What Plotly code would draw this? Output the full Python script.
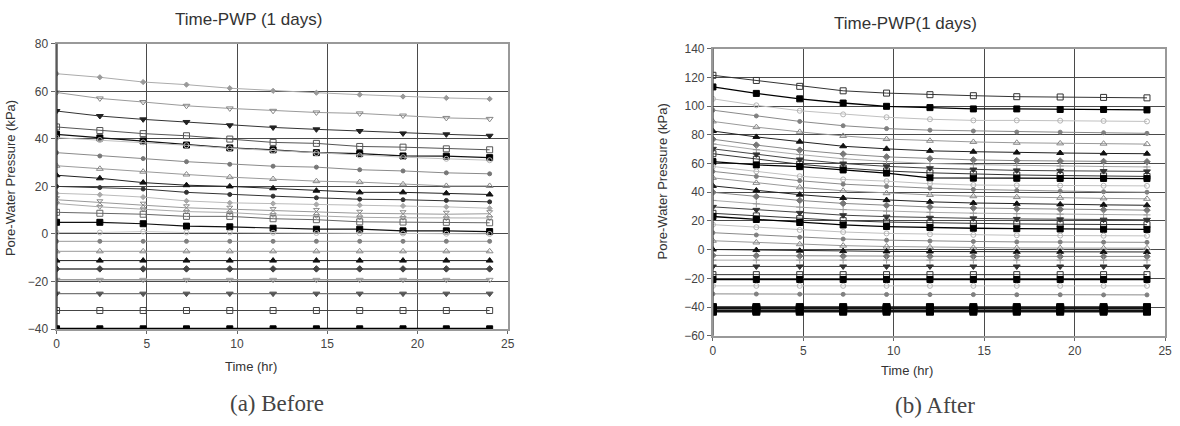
import plotly.graph_objects as go

# ---------------- data ----------------
time_hr = [0, 2.4, 4.8, 7.2, 9.6, 12, 14.4, 16.8, 19.2, 21.6, 24]

# (a) Before – pore-water pressure (kPa) per node
before_01 = [67.4, 65.9, 63.9, 62.8, 61.3, 60.2, 59.4, 58.6, 57.8, 57.2, 56.8]
before_02 = [59.5, 57.0, 55.5, 53.9, 52.8, 51.8, 51.1, 50.7, 49.8, 48.8, 48.4]
before_03 = [51.7, 49.6, 48.2, 47.1, 45.7, 44.8, 44.0, 43.3, 42.3, 41.9, 41.3]
before_04 = [45.0, 43.5, 42.2, 41.3, 39.9, 38.5, 38.1, 36.8, 36.5, 35.8, 35.4]
before_05 = [41.9, 40.4, 39.1, 37.4, 36.2, 35.4, 34.2, 33.8, 32.8, 32.7, 32.1]
before_06 = [40.5, 39.5, 38.5, 37.3, 36.0, 35.0, 34.0, 33.0, 32.3, 31.6, 31.0]
before_07 = [34.2, 32.8, 31.7, 30.4, 29.3, 28.5, 28.1, 27.0, 26.5, 25.7, 25.3]
before_08 = [28.7, 27.4, 26.2, 25.0, 23.9, 23.1, 22.2, 21.8, 20.9, 20.2, 20.2]
before_09 = [24.7, 23.4, 21.6, 20.5, 20.0, 19.2, 18.2, 17.5, 17.5, 17.1, 16.6]
before_10 = [20.0, 19.5, 18.9, 17.5, 16.6, 15.9, 15.2, 14.6, 14.4, 14.1, 13.5]
before_11 = [17.1, 16.5, 15.5, 13.9, 13.1, 12.8, 12.4, 12.1, 11.8, 11.4, 10.8]
before_12 = [14.4, 13.1, 12.1, 11.0, 10.4, 9.8, 9.4, 8.7, 8.5, 8.3, 8.5]
before_13 = [12.8, 11.4, 10.4, 9.4, 9.0, 8.0, 7.6, 7.0, 6.8, 6.6, 6.7]
before_14 = [9.1, 8.7, 8.3, 7.4, 7.4, 6.4, 6.0, 5.1, 5.0, 4.9, 4.7]
before_15 = [4.9, 4.9, 4.3, 3.3, 3.0, 2.4, 2.0, 2.0, 1.3, 1.3, 1.0]
before_16 = [0.6, 0.6, 1.0, 0.6, 0.6, 0.5, 0.4, 0.3, 0.2, 0.1, 0.0]
before_17 = [-3.1, -3.1, -3.1, -3.1, -3.1, -3.1, -3.1, -3.1, -3.1, -3.1, -3.1]
before_18 = [-7.3, -7.3, -7.3, -7.3, -7.3, -7.3, -7.3, -7.3, -7.3, -7.3, -7.3]
before_19 = [-11.2, -11.2, -11.2, -11.2, -11.2, -11.2, -11.2, -11.2, -11.2, -11.2, -11.2]
before_20 = [-14.7, -14.7, -14.7, -14.7, -14.7, -14.7, -14.7, -14.7, -14.7, -14.7, -14.7]
before_21 = [-19.3, -19.3, -19.3, -19.3, -19.3, -19.3, -19.3, -19.3, -19.3, -19.3, -19.3]
before_22 = [-25.1, -25.1, -25.1, -25.1, -25.1, -25.1, -25.1, -25.1, -25.1, -25.1, -25.1]
before_23 = [-32.2, -32.2, -32.2, -32.2, -32.2, -32.2, -32.2, -32.2, -32.2, -32.2, -32.2]
before_24 = [-39.9, -39.9, -39.9, -39.9, -39.9, -39.9, -39.9, -39.9, -39.9, -39.9, -39.9]

# (b) After – pore-water pressure (kPa) per node
after_01 = [121.4, 117.8, 113.7, 110.6, 109.0, 107.9, 107.2, 106.5, 106.3, 106.0, 105.7]
after_02 = [113.3, 108.8, 105.0, 102.1, 99.8, 98.9, 98.0, 98.0, 97.6, 97.6, 97.3]
after_03 = [105.0, 100.5, 96.7, 94.2, 92.2, 90.8, 90.0, 90.0, 89.8, 89.6, 89.3]
after_04 = [97.1, 93.1, 89.3, 86.3, 84.3, 83.2, 82.6, 81.9, 81.8, 81.4, 81.0]
after_05 = [89.3, 85.3, 82.0, 79.2, 77.0, 75.8, 75.0, 74.4, 74.0, 73.8, 73.5]
after_06 = [82.6, 78.5, 75.2, 72.0, 70.2, 68.8, 68.2, 67.6, 67.3, 67.0, 66.8]
after_07 = [76.9, 72.8, 69.3, 66.6, 64.6, 63.3, 62.5, 62.0, 61.7, 61.4, 61.2]
after_08 = [73.6, 69.6, 66.2, 63.3, 61.4, 60.0, 59.2, 58.6, 58.2, 57.9, 57.6]
after_09 = [70.2, 66.3, 62.8, 60.0, 58.0, 56.7, 55.8, 55.2, 54.9, 54.7, 54.5]
after_10 = [66.8, 62.9, 59.5, 56.8, 54.8, 53.5, 52.6, 52.0, 51.6, 51.3, 51.0]
after_11 = [61.3, 59.0, 57.8, 55.5, 53.3, 50.0, 49.8, 49.7, 49.6, 49.6, 49.5]
after_12 = [57.9, 54.5, 51.1, 48.9, 47.7, 45.9, 45.0, 44.8, 44.6, 44.5, 44.4]
after_13 = [54.5, 51.0, 48.0, 45.6, 44.0, 42.8, 41.9, 41.2, 40.7, 40.3, 40.0]
after_14 = [50.0, 46.5, 43.4, 41.0, 39.3, 38.1, 37.2, 36.6, 36.1, 35.7, 35.4]
after_15 = [44.4, 41.2, 38.3, 36.0, 34.5, 33.3, 32.5, 31.9, 31.5, 31.2, 30.9]
after_16 = [39.9, 37.0, 34.3, 32.2, 30.8, 29.7, 29.0, 28.5, 28.1, 27.8, 27.5]
after_17 = [34.3, 31.9, 29.6, 27.9, 26.8, 26.0, 25.4, 25.0, 24.7, 24.4, 24.2]
after_18 = [29.8, 27.7, 25.6, 24.0, 23.0, 22.2, 21.8, 21.4, 21.1, 20.9, 20.8]
after_19 = [25.3, 23.5, 21.6, 20.2, 19.2, 18.6, 18.2, 17.9, 17.7, 17.5, 17.4]
after_20 = [23.1, 21.0, 18.9, 17.2, 16.1, 15.4, 14.9, 14.6, 14.4, 14.2, 14.1]
after_21 = [17.4, 15.6, 13.7, 12.3, 11.3, 10.7, 10.3, 10.0, 9.8, 9.7, 9.6]
after_22 = [11.8, 10.2, 8.6, 7.4, 6.6, 6.0, 5.7, 5.4, 5.3, 5.2, 5.1]
after_23 = [6.2, 5.0, 3.8, 2.8, 2.2, 1.7, 1.4, 1.2, 1.1, 1.0, 1.0]
after_24 = [0.1, -0.3, -0.7, -1.0, -1.2, -1.3, -1.4, -1.5, -1.5, -1.6, -1.6]
after_25 = [-4.0, -4.2, -4.4, -4.5, -4.6, -4.6, -4.7, -4.7, -4.7, -4.7, -4.7]
after_26 = [-7.3, -7.3, -7.3, -7.3, -7.3, -7.3, -7.3, -7.3, -7.3, -7.3, -7.3]
after_27 = [-11.7, -11.7, -11.7, -11.7, -11.7, -11.7, -11.7, -11.7, -11.7, -11.7, -11.7]
after_28 = [-17.4, -17.4, -17.4, -17.4, -17.4, -17.4, -17.4, -17.4, -17.4, -17.4, -17.4]
after_29 = [-20.8, -20.8, -20.8, -20.8, -20.8, -20.8, -20.8, -20.8, -20.8, -20.8, -20.8]
after_30 = [-25.2, -25.2, -25.2, -25.2, -25.2, -25.2, -25.2, -25.2, -25.2, -25.2, -25.2]
after_31 = [-30.8, -30.9, -31.0, -31.1, -31.2, -31.3, -31.3, -31.4, -31.4, -31.5, -31.5]
after_32 = [-40.0, -40.0, -40.0, -40.0, -40.0, -40.0, -40.0, -40.0, -40.0, -40.0, -40.0]
after_33 = [-41.0, -41.0, -41.0, -41.0, -41.0, -41.0, -41.0, -41.0, -41.0, -41.0, -41.0]
after_34 = [-42.2, -42.2, -42.2, -42.2, -42.2, -42.2, -42.2, -42.2, -42.2, -42.2, -42.2]
after_35 = [-43.2, -43.2, -43.2, -43.2, -43.2, -43.2, -43.2, -43.2, -43.2, -43.2, -43.2]

before_series = [before_01, before_02, before_03, before_04, before_05, before_06,
                 before_07, before_08, before_09, before_10, before_11, before_12,
                 before_13, before_14, before_15, before_16, before_17, before_18,
                 before_19, before_20, before_21, before_22, before_23, before_24]
after_series = [after_01, after_02, after_03, after_04, after_05, after_06, after_07,
                after_08, after_09, after_10, after_11, after_12, after_13, after_14,
                after_15, after_16, after_17, after_18, after_19, after_20, after_21,
                after_22, after_23, after_24, after_25, after_26, after_27, after_28,
                after_29, after_30, after_31, after_32, after_33, after_34, after_35]

x_ticks = [0, 5, 10, 15, 20, 25]
before_y_ticks = [-40, -20, 0, 20, 40, 60, 80]
after_y_ticks = [-60, -40, -20, 0, 20, 40, 60, 80, 100, 120, 140]

# ---------------- styles ----------------
# (symbol, marker colour, line colour, marker size, line width)
before_styles = [
    ("diamond", "#9a9a9a", "#ababab", 4, 1),
    ("triangle-down-open", "#858585", "#9a9a9a", 6, 1),
    ("triangle-down", "#222222", "#333333", 6, 1),
    ("square-open", "#555555", "#555555", 6, 1),
    ("square", "#000000", "#111111", 6, 1.2),
    ("circle-open", "#b5b5b5", "#c0c0c0", 5, 1),
    ("circle", "#777777", "#8a8a8a", 4, 1),
    ("triangle-up-open", "#888888", "#9a9a9a", 6, 1),
    ("triangle-up", "#111111", "#222222", 6, 1),
    ("circle", "#333333", "#333333", 4, 1),
    ("diamond", "#aaaaaa", "#bbbbbb", 4, 1),
    ("hourglass-open", "#888888", "#999999", 6, 1),
    ("triangle-down-open", "#999999", "#aaaaaa", 5, 1),
    ("square-open", "#666666", "#666666", 6, 1),
    ("square", "#000000", "#111111", 6, 1.2),
    ("circle-open", "#bbbbbb", "#c8c8c8", 5, 1),
    ("circle", "#808080", "#999999", 4, 1),
    ("triangle-up-open", "#888888", "#999999", 6, 1),
    ("triangle-up", "#111111", "#222222", 6, 1),
    ("diamond", "#444444", "#444444", 5, 1.5),
    ("triangle-down-open", "#999999", "#9a9a9a", 6, 1.5),
    ("triangle-down", "#555555", "#777777", 6, 1.2),
    ("square-open", "#444444", "#444444", 6, 1),
    ("square", "#000000", "#000000", 6, 2),
]
after_style_cycle = [
    ("square-open", "#333333", "#333333", 6, 1),
    ("square", "#000000", "#000000", 6, 1.3),
    ("circle-open", "#b5b5b5", "#c0c0c0", 5, 1),
    ("circle", "#808080", "#8a8a8a", 4, 1),
    ("triangle-up-open", "#888888", "#999999", 6, 1),
    ("triangle-up", "#111111", "#222222", 6, 1),
    ("diamond", "#777777", "#888888", 5, 1),
    ("cross-thin-open", "#999999", "#aaaaaa", 5, 1),
    ("triangle-down", "#333333", "#444444", 6, 1),
]

fig = go.Figure()

for i, vals in enumerate(before_series):
    sym, mc, lc, ms, lw = before_styles[i]
    fig.add_trace(go.Scatter(
        x=time_hr, y=vals, mode="lines+markers", xaxis="x", yaxis="y",
        line=dict(color=lc, width=lw),
        marker=dict(symbol=sym, color=mc, size=ms, line=dict(color=mc, width=1)),
        showlegend=False, hoverinfo="skip"))

for i, vals in enumerate(after_series):
    if i >= len(after_series) - 4:
        sym, mc, lc, ms, lw = ("square", "#000000", "#111111", 7, 1.5)
    else:
        sym, mc, lc, ms, lw = after_style_cycle[i % len(after_style_cycle)]
    fig.add_trace(go.Scatter(
        x=time_hr, y=vals, mode="lines+markers", xaxis="x2", yaxis="y2",
        line=dict(color=lc, width=lw),
        marker=dict(symbol=sym, color=mc, size=ms, line=dict(color=mc, width=1)),
        showlegend=False, hoverinfo="skip"))

W, H = 1180, 426
tick_font = dict(family="Liberation Sans, Arial, sans-serif", size=12, color="#444444")

def xaxis_cfg(domain, anchor):
    return dict(domain=domain, anchor=anchor, range=[0, 25], tickvals=x_ticks,
                showgrid=True, gridcolor="#4a4a4a", gridwidth=1, zeroline=False,
                showline=True, linecolor="#999999", linewidth=2, mirror=True,
                ticks="outside", ticklen=3, tickcolor="#666666",
                tickfont=tick_font, fixedrange=True)

def yaxis_cfg(domain, anchor, rng, ticks):
    return dict(domain=domain, anchor=anchor, range=rng, tickvals=ticks,
                showgrid=True, gridcolor="#4a4a4a", gridwidth=1, zeroline=False,
                showline=True, linecolor="#999999", linewidth=2, mirror=True,
                ticks="outside", ticklen=4, tickcolor="#666666",
                tickfont=tick_font, fixedrange=True)

left_dom_x = [54 / W, 509 / W]
left_dom_y = [(H - 333) / H, (H - 38) / H]
right_dom_x = [716 / W, 1172 / W]
right_dom_y = [(H - 340) / H, (H - 43) / H]

title_font = dict(family="Liberation Sans, Arial, sans-serif", size=17, color="#333333")
axis_title_font = dict(family="Liberation Sans, Arial, sans-serif", size=13, color="#333333")
caption_font = dict(family="Liberation Serif, DejaVu Serif, serif", size=23, color="#444444")

annotations = [
    dict(text="Time-PWP (1 days)", x=248 / W, y=(H - 13) / H, font=title_font),
    dict(text="Time-PWP(1 days)", x=910 / W, y=(H - 17) / H, font=title_font),
    dict(text="Pore-Water Pressure (kPa)", x=7 / W, y=(H - 177) / H, textangle=-90,
         font=axis_title_font),
    dict(text="Pore-Water Pressure (kPa)", x=665 / W, y=(H - 180) / H, textangle=-90,
         font=axis_title_font),
    dict(text="Time (hr)", x=250 / W, y=(H - 372) / H, font=axis_title_font),
    dict(text="Time (hr)", x=912 / W, y=(H - 376) / H, font=axis_title_font),
    dict(text="(a) Before", x=276 / W, y=(H - 410) / H, font=caption_font),
    dict(text="(b) After", x=940 / W, y=(H - 412) / H, font=caption_font),
]
for a in annotations:
    a.update(xref="paper", yref="paper", showarrow=False, xanchor="center", yanchor="middle")

shapes = [
    dict(type="line", xref="x", yref="y domain", x0=0, x1=0, y0=0, y1=1,
         line=dict(color="#111111", width=2), layer="above"),
    dict(type="line", xref="x2", yref="y2 domain", x0=0, x1=0, y0=0, y1=1,
         line=dict(color="#444444", width=1.5), layer="above"),
]

fig.update_layout(
    width=W, height=H, margin=dict(l=0, r=0, t=0, b=0),
    paper_bgcolor="white", plot_bgcolor="white",
    xaxis=xaxis_cfg(left_dom_x, "y"),
    yaxis=yaxis_cfg(left_dom_y, "x", [-40, 80], before_y_ticks),
    xaxis2=xaxis_cfg(right_dom_x, "y2"),
    yaxis2=yaxis_cfg(right_dom_y, "x2", [-60, 140], after_y_ticks),
    annotations=annotations, shapes=shapes, showlegend=False,
)

fig.write_html("out.html")
